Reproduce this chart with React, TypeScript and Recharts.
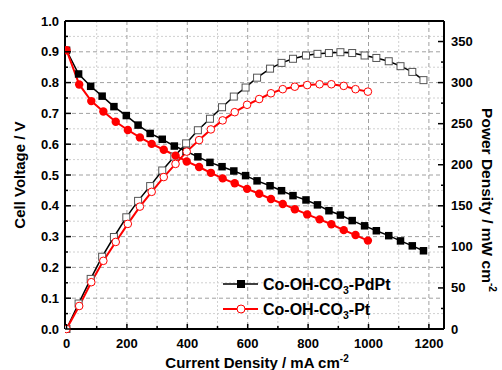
import React from 'react';
import { ComposedChart, Line, XAxis, YAxis, CartesianGrid, Legend, ReferenceLine } from 'recharts';

// Co-OH-CO3-PdPt cathode
const pdptCurrent = [0, 40, 80, 118, 157, 198, 237, 277, 317, 357, 396, 435, 475, 515, 554, 593, 631, 674, 712, 750, 793, 831, 869, 907, 946, 987, 1026, 1067, 1106, 1145, 1182];
const pdptVoltage = [0.905, 0.828, 0.788, 0.756, 0.722, 0.693, 0.662, 0.635, 0.616, 0.594, 0.577, 0.559, 0.541, 0.527, 0.513, 0.498, 0.481, 0.465, 0.449, 0.433, 0.419, 0.403, 0.384, 0.37, 0.352, 0.335, 0.319, 0.303, 0.286, 0.27, 0.254];
const pdptPower = [0, 31, 61, 88, 112, 136, 156, 174, 193, 210, 226, 242, 256, 270, 283, 294, 306, 317, 324, 329, 333, 335, 336, 337, 336, 333, 330, 326, 320, 313, 303];

// Co-OH-CO3-Pt cathode
const ptCurrent = [0, 42, 82, 122, 163, 203, 243, 282, 322, 361, 398, 439, 478, 517, 557, 598, 638, 677, 716, 756, 797, 838, 877, 918, 957, 998];
const ptVoltage = [0.905, 0.794, 0.74, 0.706, 0.673, 0.646, 0.622, 0.601, 0.582, 0.563, 0.544, 0.526, 0.507, 0.489, 0.473, 0.455, 0.439, 0.422, 0.406, 0.389, 0.372, 0.356, 0.34, 0.321, 0.305, 0.287];
const ptPower = [0, 28, 57, 83, 106, 128, 149, 167, 185, 201, 216, 230, 243, 254, 264, 273, 280, 287, 292, 295, 297, 298, 298, 296, 292, 289];

const seriesNames = [
  { base: 'Co-OH-CO', sub: '3', tail: '-PdPt' },
  { base: 'Co-OH-CO', sub: '3', tail: '-Pt' },
];

const xMajorTicks = [0, 200, 400, 600, 800, 1000, 1200];
const xMinorTicks = [100, 300, 500, 700, 900, 1100];
const vMajorTicks = [0, 0.1, 0.2, 0.3, 0.4, 0.5, 0.6, 0.7, 0.8, 0.9, 1.0];
const vMinorTicks = [0.05, 0.15, 0.25, 0.35, 0.45, 0.55, 0.65, 0.75, 0.85, 0.95];
const pMajorTicks = [0, 50, 100, 150, 200, 250, 300, 350];
const pMinorTicks = [25, 75, 125, 175, 225, 275, 325];

const pdptRows = pdptCurrent.map((x, i) => ({ x, v: pdptVoltage[i], p: pdptPower[i] }));
const ptRows = ptCurrent.map((x, i) => ({ x, v: ptVoltage[i], p: ptPower[i] }));

const FONT = "'Liberation Sans', Arial, sans-serif";
const sorted = (a: number[], b: number[]) => [...a, ...b].sort((m, n) => m - n);
const isIn = (list: number[], v: number) => list.some(t => Math.abs(t - v) < 1e-6);

const LeftTick = ({ x, y, payload }: any) => {
  const major = isIn(vMajorTicks, payload.value);
  return (
    <g>
      <line x1={x} x2={x + (major ? 6 : 3)} y1={y} y2={y} stroke="#000" strokeWidth={1.5} />
      {major && (
        <text x={x - 6} y={y + 4.5} textAnchor="end" fontFamily={FONT} fontWeight="bold" fontSize={13} fill="#000">
          {payload.value.toFixed(1)}
        </text>
      )}
    </g>
  );
};

const RightTick = ({ x, y, payload }: any) => {
  const major = isIn(pMajorTicks, payload.value);
  return (
    <g>
      <line x1={x} x2={x - (major ? 6 : 3)} y1={y} y2={y} stroke="#000" strokeWidth={1.5} />
      {major && (
        <text x={x + 7} y={y + 4.5} textAnchor="start" fontFamily={FONT} fontWeight="bold" fontSize={13} fill="#000">
          {payload.value}
        </text>
      )}
    </g>
  );
};

const BottomTick = ({ x, y, payload }: any) => {
  const major = isIn(xMajorTicks, payload.value);
  return (
    <g>
      <line x1={x} x2={x} y1={y} y2={y - (major ? 5 : 3)} stroke="#000" strokeWidth={1.5} />
      {major && (
        <text x={x} y={y + 19} textAnchor="middle" fontFamily={FONT} fontWeight="bold" fontSize={13} fill="#000">
          {payload.value}
        </text>
      )}
    </g>
  );
};

const LeftTitle = () => (
  <text x={19} y={175} transform="rotate(-90 19 175)" textAnchor="middle" dominantBaseline="central"
    fontFamily={FONT} fontWeight="bold" fontSize={15} fill="#000">
    Cell Voltage / V
  </text>
);

const RightTitle = () => (
  <text x={487} y={200} transform="rotate(90 487 200)" textAnchor="middle" dominantBaseline="central"
    fontFamily={FONT} fontWeight="bold" fontSize={15.5} fill="#000">
    Power Density / mW cm<tspan dy={-6} fontSize={10}>-2</tspan>
  </text>
);

const BottomTitle = () => (
  <text x={257} y={368} textAnchor="middle" fontFamily={FONT} fontWeight="bold" fontSize={15} fill="#000">
    Current Density / mA cm<tspan dy={-6} fontSize={10}>-2</tspan>
  </text>
);

const filledSquare = (props: any) => {
  const { cx, cy, index } = props;
  if (cx == null || cy == null) return <g key={`fs-${index}`} />;
  return <rect key={`fs-${index}`} x={cx - 3.75} y={cy - 3.75} width={7.5} height={7.5} fill="#000" />;
};
const openSquare = (props: any) => {
  const { cx, cy, index } = props;
  if (cx == null || cy == null) return <g key={`os-${index}`} />;
  return <rect key={`os-${index}`} x={cx - 3.5} y={cy - 3.5} width={7} height={7} fill="#fff" stroke="#555" strokeWidth={1} />;
};
const filledCircle = (props: any) => {
  const { cx, cy, index } = props;
  if (cx == null || cy == null) return <g key={`fc-${index}`} />;
  return <circle key={`fc-${index}`} cx={cx} cy={cy} r={4.2} fill="#ff0000" />;
};
const openCircle = (props: any) => {
  const { cx, cy, index } = props;
  if (cx == null || cy == null) return <g key={`oc-${index}`} />;
  return <circle key={`oc-${index}`} cx={cx} cy={cy} r={3.8} fill="#fff" stroke="#ff0000" strokeWidth={1} />;
};

const LegendBox = () => (
  <svg width={180} height={48} style={{ display: 'block' }}>
    <line x1={3} x2={38} y1={12} y2={12} stroke="#000" strokeWidth={1.5} />
    <rect x={17} y={8} width={8} height={8} fill="#000" />
    <text x={43} y={17.5} fontFamily={FONT} fontWeight="bold" fontSize={16} fill="#000">
      {seriesNames[0].base}<tspan dy={4} fontSize={10.5}>{seriesNames[0].sub}</tspan><tspan dy={-4}>{seriesNames[0].tail}</tspan>
    </text>
    <line x1={3} x2={38} y1={37} y2={37} stroke="#ff0000" strokeWidth={2} />
    <circle cx={21} cy={37} r={4} fill="#fff" stroke="#ff0000" strokeWidth={1} />
    <text x={43} y={42.5} fontFamily={FONT} fontWeight="bold" fontSize={16} fill="#000">
      {seriesNames[1].base}<tspan dy={4} fontSize={10.5}>{seriesNames[1].sub}</tspan><tspan dy={-4}>{seriesNames[1].tail}</tspan>
    </text>
  </svg>
);

export default function App() {
  return (
    <div style={{ position: 'absolute', left: 0, top: 0, width: 502, height: 370, background: '#fff' }}>
      <ComposedChart width={502} height={370} margin={{ top: 21, right: 0, bottom: 0, left: 0 }}>
        <CartesianGrid yAxisId="v" horizontalValues={vMinorTicks} verticalValues={xMinorTicks}
          stroke="#d0d0d0" strokeDasharray="2 2" />
        <CartesianGrid yAxisId="v" horizontalValues={vMajorTicks.slice(1, -1)} verticalValues={xMajorTicks.slice(1)}
          stroke="#a0a0a0" strokeDasharray="4 3" />
        <XAxis type="number" dataKey="x" domain={[-5, 1250]} ticks={sorted(xMajorTicks, xMinorTicks)} interval={0}
          allowDataOverflow height={41} tickSize={0} tickMargin={0} tick={<BottomTick />}
          axisLine={{ stroke: '#000', strokeWidth: 2 }} label={<BottomTitle />} />
        <YAxis yAxisId="v" type="number" domain={[0, 1]} ticks={sorted(vMajorTicks, vMinorTicks)} interval={0}
          width={65} tickSize={0} tickMargin={0} tick={<LeftTick />}
          axisLine={{ stroke: '#000', strokeWidth: 2 }} label={<LeftTitle />} />
        <YAxis yAxisId="p" orientation="right" type="number" domain={[0, 375]} ticks={sorted(pMajorTicks, pMinorTicks)}
          interval={0} width={58} tickSize={0} tickMargin={0} tick={<RightTick />}
          axisLine={{ stroke: '#000', strokeWidth: 2 }} label={<RightTitle />} />
        <ReferenceLine yAxisId="v" y={1} stroke="#000" strokeWidth={2} />
        <Line yAxisId="v" data={pdptRows} dataKey="v" type="linear" stroke="#000" strokeWidth={1.5}
          dot={filledSquare} isAnimationActive={false} />
        <Line yAxisId="p" data={pdptRows} dataKey="p" type="linear" stroke="#000" strokeWidth={1.5}
          dot={openSquare} isAnimationActive={false} />
        <Line yAxisId="v" data={ptRows} dataKey="v" type="linear" stroke="#ff0000" strokeWidth={2}
          dot={filledCircle} isAnimationActive={false} />
        <Line yAxisId="p" data={ptRows} dataKey="p" type="linear" stroke="#ff0000" strokeWidth={2}
          dot={openCircle} isAnimationActive={false} />
        <Legend layout="vertical" align="center" verticalAlign="middle" content={<LegendBox />}
          wrapperStyle={{ position: 'absolute', left: 220, top: 272, width: 180, height: 48 }} />
      </ComposedChart>
    </div>
  );
}
